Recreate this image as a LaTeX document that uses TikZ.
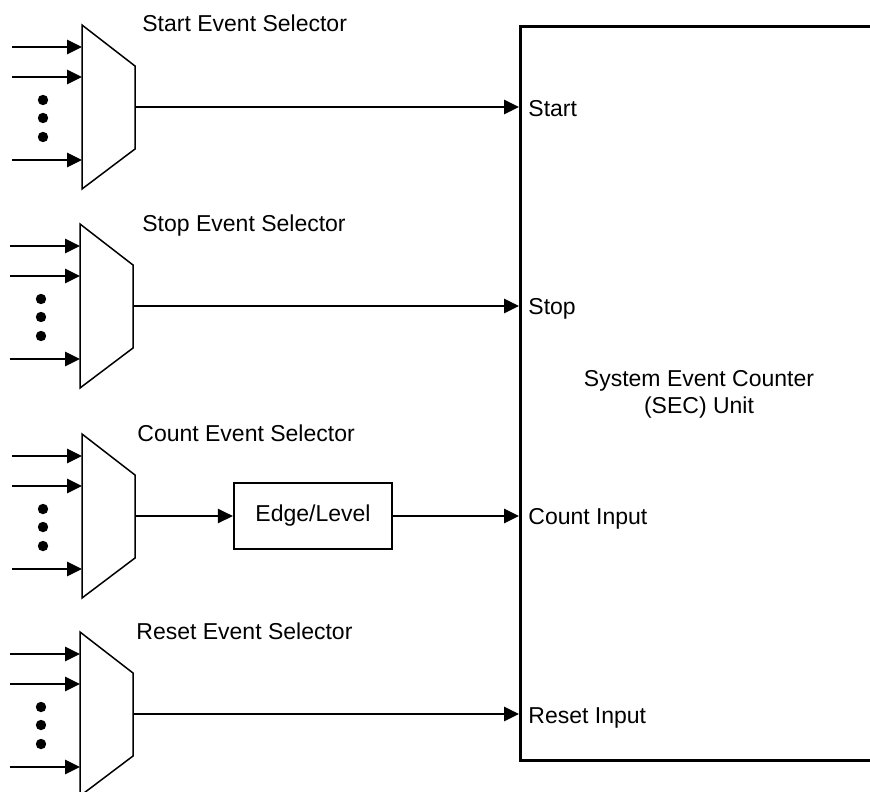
\documentclass[tikz,border=0pt]{standalone}
\usepackage{fontspec}
\setmainfont{Liberation Sans}
\usetikzlibrary{arrows.meta}
\begin{document}
\begin{tikzpicture}[x=0.5pt,y=-0.5pt,
  thinline/.style={line width=0.75pt},
  arr/.style={thinline,-{Triangle[length=7.5pt,width=7.2pt]}},
  txt/.style={font=\fontsize{11.5pt}{13.5pt}\selectfont, inner sep=0pt},
  muxshape/.style={thinline, line join=miter},
  dotmark/.style={fill=black}]
\useasboundingbox (0,0) rectangle (870,791);
\clip (0,0) rectangle (870,791);

% SEC unit
\node[draw, line width=1.5pt, minimum width=200pt, minimum height=367pt,
      anchor=north west, inner sep=0pt] (sec) at (519,25) {};
\node[txt, anchor=base] (sect1) at (699,386) {System Event Counter};
\node[txt, anchor=base] (sect2) at (699,413) {(SEC) Unit};

% multiplexers
\foreach \L/\T/\n in {82/25/a,80/224/b,82/434/c,80/632/d} {
  \draw[muxshape] (\L,\T) -- (\L+53,\T+41) -- (\L+53,\T+124) -- (\L,\T+164) -- cycle;
  \coordinate (mux\n-out) at (\L+53,\T+82);
  \foreach \dy/\k in {22/1,52/2,135/3} {
    \coordinate (in\n\k) at (\L-70,\T+\dy);
    \coordinate (mux\n-i\k) at (\L,\T+\dy);
    \draw[arr] (in\n\k) -- (mux\n-i\k);
  }
  \foreach \dy in {75,93,112}
    \fill[dotmark] (\L-39,\T+\dy) circle[radius=2.6pt];
}

% selector labels
\node[txt, anchor=base west] (lba) at (142,32) {Start Event Selector};
\node[txt, anchor=base west] (lbb) at (142,231) {Stop Event Selector};
\node[txt, anchor=base west] (lbc) at (137,441) {Count Event Selector};
\node[txt, anchor=base west] (lbd) at (136,639) {Reset Event Selector};

% edge/level block
\node[draw, line width=1.15pt, minimum width=79pt, minimum height=33pt,
      txt, inner sep=0pt] (edge) at (313,516) {Edge/Level};

% SEC input points
\coordinate (sa) at (sec.west |- muxa-out);
\coordinate (sb) at (sec.west |- muxb-out);
\coordinate (sc) at (sec.west |- muxc-out);
\coordinate (sd) at (sec.west |- muxd-out);

% connectors
\draw[arr] (muxa-out) -- (sa);
\draw[arr] (muxb-out) -- (sb);
\draw[arr] (muxc-out) -- (edge.west);
\draw[arr] (edge.east) -- (sc);
\draw[arr] (muxd-out) -- (sd);

% input labels
\node[txt, anchor=base west] (ta) at (528,117) {Start};
\node[txt, anchor=base west] (tb) at (528,314) {Stop};
\node[txt, anchor=base west] (tc) at (528,524) {Count Input};
\node[txt, anchor=base west] (td) at (528,723) {Reset Input};
\end{tikzpicture}
\end{document}
